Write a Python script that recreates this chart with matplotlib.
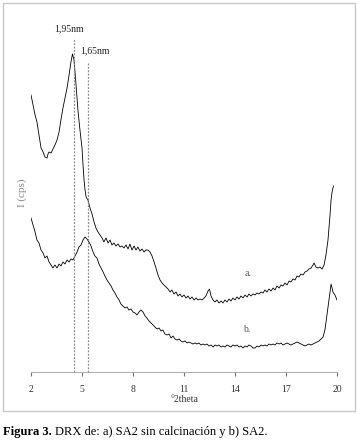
import numpy as np
import matplotlib
matplotlib.use('Agg')
import matplotlib.pyplot as plt
from matplotlib.patches import Rectangle

plt.rcParams['font.family'] = ['Liberation Serif', 'DejaVu Serif']

# curva a) SA2 sin calcinacion  (2theta, I)
theta_a = [2.0, 2.12, 2.24, 2.35, 2.47, 2.59, 2.71, 2.82, 2.94, 3.0, 3.06, 3.18, 3.29, 3.41, 3.53,
           3.65, 3.76, 3.88, 4.0, 4.12, 4.24, 4.35, 4.44, 4.53, 4.65, 4.76, 4.88, 5.0, 5.06, 5.12,
           5.18, 5.24, 5.35, 5.47, 5.59, 5.71, 5.82, 5.94, 6.06, 6.18, 6.29, 6.41, 6.53, 6.65, 6.76,
           6.88, 7.0, 7.12, 7.24, 7.35, 7.47, 7.59, 7.71, 7.82, 7.94, 8.06, 8.18, 8.29, 8.41, 8.53,
           8.65, 8.76, 8.88, 9.0, 9.12, 9.24, 9.35, 9.47, 9.59, 9.71, 9.82, 9.94, 10.06, 10.18, 10.29,
           10.41, 10.53, 10.65, 10.76, 10.88, 11.0, 11.12, 11.24, 11.35, 11.47, 11.59, 11.71, 11.82,
           11.94, 12.06, 12.18, 12.29, 12.41, 12.5, 12.59, 12.71, 12.82, 12.94, 13.06, 13.18, 13.29,
           13.41, 13.53, 13.65, 13.76, 13.88, 14.0, 14.12, 14.24, 14.35, 14.47, 14.59, 14.71, 14.82,
           14.94, 15.06, 15.18, 15.29, 15.41, 15.53, 15.65, 15.76, 15.88, 16.0, 16.12, 16.24, 16.35,
           16.47, 16.59, 16.71, 16.82, 16.94, 17.06, 17.18, 17.29, 17.41, 17.53, 17.65, 17.76, 17.88,
           18.0, 18.12, 18.24, 18.35, 18.47, 18.59, 18.65, 18.76, 18.88, 19.0, 19.12, 19.24, 19.35,
           19.47, 19.59, 19.65, 19.71, 19.76, 19.8]
I_a = [277, 267, 257, 250, 237, 224, 220, 215, 214, 218, 220, 219, 223, 227, 232,
       240, 252, 264, 274, 284, 297, 310, 318, 312, 287, 262, 242, 224, 207, 192,
       182, 175, 172, 164, 158, 150, 144, 140, 137, 134, 130, 134, 129, 132, 127,
       129, 126, 128, 125, 126, 124, 127, 123, 128, 122, 126, 122, 125, 121, 123,
       120, 122, 122, 120, 116, 110, 104, 97, 92, 89, 87, 85, 83, 80, 82,
       78, 80, 76, 78, 75, 77, 74, 76, 73, 75, 72, 74, 72,
       73, 72, 74, 76, 81, 83, 76, 72, 70, 72, 69, 71, 69,
       72, 70, 73, 71, 74, 72, 75, 73, 76, 74, 77, 75, 78,
       76, 78, 77, 79, 78, 80, 79, 82, 80, 83, 81, 84, 82,
       86, 84, 87, 86, 89, 87, 91, 90, 93, 92, 96, 95, 98,
       97, 100, 101, 103, 104, 107, 109, 105, 104, 105, 103, 107, 117,
       132, 157, 172, 180, 184, 186]

# curva b) SA2
theta_b = [2.0, 2.12, 2.24, 2.35, 2.47, 2.59, 2.71, 2.82, 2.94, 3.06, 3.18, 3.29, 3.41, 3.53, 3.65,
           3.76, 3.88, 4.0, 4.12, 4.24, 4.35, 4.47, 4.59, 4.71, 4.82, 4.94, 5.06, 5.18, 5.29, 5.41,
           5.53, 5.65, 5.76, 5.88, 6.0, 6.12, 6.24, 6.35, 6.47, 6.59, 6.71, 6.82, 6.94, 7.06, 7.18,
           7.29, 7.41, 7.53, 7.65, 7.76, 7.88, 8.0, 8.12, 8.24, 8.35, 8.47, 8.59, 8.71, 8.82, 8.94,
           9.06, 9.18, 9.29, 9.41, 9.53, 9.65, 9.76, 9.88, 10.0, 10.12, 10.24, 10.35, 10.47, 10.59,
           10.71, 10.82, 10.94, 11.06, 11.18, 11.29, 11.41, 11.53, 11.65, 11.76, 11.88, 12.0, 12.12,
           12.24, 12.35, 12.47, 12.59, 12.71, 12.82, 12.94, 13.06, 13.18, 13.29, 13.41, 13.53, 13.65,
           13.76, 13.88, 14.0, 14.12, 14.24, 14.35, 14.47, 14.59, 14.71, 14.82, 14.94, 15.06, 15.18,
           15.29, 15.41, 15.53, 15.65, 15.76, 15.88, 16.0, 16.12, 16.24, 16.35, 16.47, 16.59, 16.71,
           16.82, 16.94, 17.06, 17.18, 17.29, 17.41, 17.53, 17.65, 17.76, 17.88, 18.0, 18.12, 18.24,
           18.35, 18.47, 18.59, 18.71, 18.82, 18.94, 19.06, 19.18, 19.29, 19.41, 19.53, 19.59, 19.65,
           19.71, 19.76, 19.88, 20.0]
I_b = [154, 147, 140, 132, 129, 122, 119, 114, 116, 110, 107, 104, 107, 104, 108,
       106, 110, 108, 112, 110, 113, 112, 116, 120, 125, 127, 132, 135, 133, 130,
       126, 120, 116, 114, 108, 104, 100, 96, 92, 89, 86, 82, 79, 75, 72,
       68, 66, 64, 65, 62, 63, 60, 59, 57, 60, 62, 60, 56, 54, 51,
       49, 47, 45, 43, 44, 41, 42, 38, 37, 38, 34, 36, 33, 32,
       33, 31, 30, 31, 29, 30, 29, 28, 29, 28, 29, 27, 28,
       27, 28, 26, 27, 25, 27, 26, 27, 25, 26, 25, 27, 26,
       25, 27, 26, 27, 25, 26, 24, 26, 25, 27, 26, 24, 24,
       26, 25, 27, 26, 27, 26, 28, 27, 28, 27, 29, 28, 29,
       27, 28, 29, 28, 27, 28, 29, 30, 29, 28, 27, 26, 27,
       28, 27, 28, 29, 30, 31, 33, 35, 42, 57, 72, 80, 88,
       84, 80, 77, 72]

peaks = [4.53, 5.35]
peak_tops = [334, 310]
peak_labels = ['1,95nm', '1,65nm']
xticks = [2, 5, 8, 11, 14, 17, 20]

W, H = 357, 444
fig = plt.figure(figsize=(W / 100, H / 100), dpi=100)

# marco exterior
fig.patches.append(Rectangle((3 / W, 1 - 411 / H), 352 / W, 408 / H, transform=fig.transFigure,
                             fill=False, edgecolor='#c8c8c8', lw=1.0))

ax = fig.add_axes([31 / W, 1 - 372 / H, 306 / W, 352 / H])
ax.plot(theta_a, I_a, color='black', lw=0.6)
ax.plot(theta_b, I_b, color='black', lw=0.6)

for p, top, lab, dx, dy in zip(peaks, peak_tops, peak_labels, [-0.3, 0.4], [9, 11]):
    ax.plot([p, p], [0, top], color='#8a8a8a', lw=0.9, ls=(0, (1.5, 1.2)))
    ax.text(p + dx, top + dy, lab, ha='center', va='center', fontsize=7, color='#222222')

ax.text(14.76, 99, 'a.', fontsize=7, color='#555555', ha='center', va='center')
ax.text(14.7, 42, 'b.', fontsize=7, color='#555555', ha='center', va='center')

ax.set_xlim(2, 20)
ax.set_ylim(0, 352)
for s in ['top', 'right', 'left']:
    ax.spines[s].set_visible(False)
ax.spines['bottom'].set_color('#b0b0b0')
ax.spines['bottom'].set_linewidth(0.8)
ax.set_xticks(xticks)
ax.set_yticks([])
ax.tick_params(axis='x', direction='out', length=3, width=0.8, color='#707070',
               labelsize=7, labelcolor='#333333', pad=6.5)
ax.set_xlabel('°2theta', fontsize=7, color='#333333', labelpad=0.5)
ax.text(-0.029, 0.509, 'I (cps)', transform=ax.transAxes, rotation=90, ha='center', va='center',
        fontsize=8, color='#888888')
ax.patch.set_alpha(0)

# pie de figura
t1 = fig.text(3 / W, 1 - 432 / H, 'Figura 3.', fontsize=9, fontweight='bold', va='center')
fig.canvas.draw()
bb = t1.get_window_extent()
fig.text(bb.x1 / W + 3 / W, 1 - 432 / H, 'DRX de: a) SA2 sin calcinación y b) SA2.', fontsize=9,
         va='center')

fig.savefig('out.png', dpi=100)
